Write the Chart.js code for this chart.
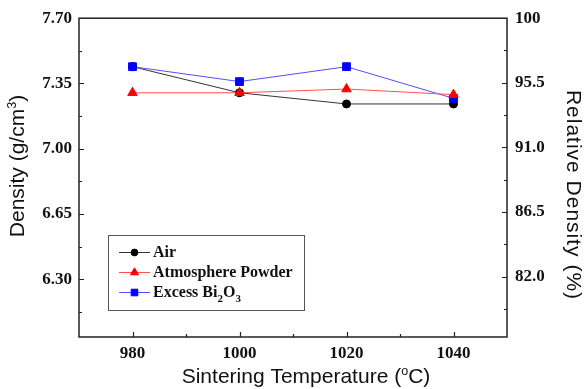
<!DOCTYPE html>
<html>
<head>
<meta charset="utf-8">
<script src="https://cdn.jsdelivr.net/npm/chart.js@4/dist/chart.umd.min.js"></script>
<style>
  html, body { margin: 0; padding: 0; background: #fff; }
  #wrap { width: 584px; height: 389px; position: relative; }
</style>
</head>
<body>
<div id="wrap"><canvas id="chart"></canvas></div>
<script>
const temps = [980, 1000, 1020, 1040];
const airDensity = [7.44, 7.30, 7.24, 7.24];
const powderDensity = [7.30, 7.30, 7.32, 7.29];
const excessDensity = [7.44, 7.36, 7.44, 7.27];
const densityTicks = [6.30, 6.65, 7.00, 7.35, 7.70];
const relTicks = [82.0, 86.5, 91.0, 95.5, 100];
const tempTicks = [980, 1000, 1020, 1040];

const serifBold = {family: '"Liberation Serif", "Times New Roman", serif', size: 17, weight: 'bold'};
const SANS = '"Liberation Sans", Arial, sans-serif';

function pts(ys) { return temps.map((t, i) => ({x: t, y: ys[i]})); }

// text made of pieces: [text, 0 normal | 1 superscript | -1 subscript]
function drawPieces(ctx, pieces, size, family, weight, spacing) {
  ctx.letterSpacing = spacing || '0px';
  let w = 0;
  pieces.forEach(([t, k]) => {
    ctx.font = weight + ' ' + (k ? size * 0.6 : size) + 'px ' + family;
    w += ctx.measureText(t).width;
  });
  let x = -w / 2;
  pieces.forEach(([t, k]) => {
    ctx.font = weight + ' ' + (k ? size * 0.6 : size) + 'px ' + family;
    ctx.fillText(t, x, k === 1 ? -size * 0.28 : (k === -1 ? size * 0.3 : 0));
    x += ctx.measureText(t).width;
  });
  ctx.letterSpacing = '0px';
}

const decor = {
  id: 'decor',
  afterDraw(chart) {
    const ctx = chart.ctx, a = chart.chartArea;
    const sx = chart.scales.x, sy = chart.scales.y, sy2 = chart.scales.y2;
    ctx.save();
    ctx.strokeStyle = '#222';
    ctx.lineWidth = 1.5;
    ctx.strokeRect(a.left, a.top, a.right - a.left, a.bottom - a.top);
    ctx.lineWidth = 1.2;
    ctx.beginPath();
    for (let v = 980; v <= 1040; v += 10) {
      const px = Math.round(sx.getPixelForValue(v)) + 0.5;
      const len = v % 20 === 0 ? 5 : 3;
      ctx.moveTo(px, a.bottom); ctx.lineTo(px, a.bottom - len);
    }
    for (let i = 0; i < 9; i++) {
      const py = Math.round(sy.getPixelForValue(6.125 + i * 0.175)) + 0.5;
      const len = i % 2 === 1 ? 5 : 3;
      ctx.moveTo(a.left, py); ctx.lineTo(a.left + len, py);
    }
    for (let i = 0; i < 9; i++) {
      const py = Math.round(sy2.getPixelForValue(79.75 + i * 2.25)) + 0.5;
      const len = i % 2 === 1 ? 5 : 3;
      ctx.moveTo(a.right, py); ctx.lineTo(a.right - len, py);
    }
    ctx.stroke();

    // axis titles
    ctx.fillStyle = '#111';
    ctx.textBaseline = 'middle';
    ctx.save();
    ctx.translate(18, 166); ctx.rotate(-Math.PI / 2);
    drawPieces(ctx, [['Density (g/cm', 0], ['3', 1], [')', 0]], 21, SANS, 'normal');
    ctx.restore();
    ctx.save();
    ctx.translate(573, 195); ctx.rotate(Math.PI / 2);
    drawPieces(ctx, [['Relative Density (%)', 0]], 21, SANS, 'normal', '1px');
    ctx.restore();
    ctx.save();
    ctx.translate(306, 377);
    drawPieces(ctx, [['Sintering Temperature (', 0], ['o', 1], ['C)', 0]], 21, SANS, 'normal');
    ctx.restore();

    // legend
    const bx = 108, by = 235, bw = 196, bh = 75;
    ctx.strokeStyle = '#555';
    ctx.lineWidth = 1;
    ctx.strokeRect(bx + 0.5, by + 0.5, bw, bh);
    const rows = [
      {ds: 0, y: 252, text: [['Air', 0]]},
      {ds: 1, y: 272, text: [['Atmosphere Powder', 0]]},
      {ds: 2, y: 292, text: [['Excess Bi', 0], ['2', -1], ['O', 0], ['3', -1]]}
    ];
    rows.forEach(r => {
      const ds = chart.data.datasets[r.ds];
      ctx.strokeStyle = ds.borderColor;
      ctx.lineWidth = 1;
      ctx.beginPath();
      ctx.moveTo(119, r.y + 0.5); ctx.lineTo(150, r.y + 0.5);
      ctx.stroke();
      ctx.fillStyle = ds.pointBackgroundColor;
      ctx.strokeStyle = ds.pointBorderColor;
      Chart.helpers.drawPoint(ctx, {
        pointStyle: ds.pointStyle, radius: ds.pointRadius * 0.85, rotation: 0, borderWidth: 1
      }, 134.5, r.y + 0.5);
      let x = 153;
      ctx.fillStyle = '#111';
      r.text.forEach(([t, k]) => {
        ctx.font = 'bold ' + (k ? 11 : 16) + 'px "Liberation Serif", serif';
        ctx.fillText(t, x, r.y + 1 + (k ? 6 : 0));
        x += ctx.measureText(t).width;
      });
    });
    ctx.restore();
  }
};

new Chart(document.getElementById('chart'), {
  type: 'line',
  data: {
    datasets: [{
      label: 'Air',
      data: pts(airDensity),
      borderColor: '#333',
      pointBackgroundColor: '#000',
      pointBorderColor: '#000',
      pointStyle: 'circle',
      pointRadius: 4,
      borderWidth: 1,
      order: 3
    }, {
      label: 'Atmosphere Powder',
      data: pts(powderDensity),
      borderColor: '#ff5050',
      pointBackgroundColor: '#ff0000',
      pointBorderColor: '#ff0000',
      pointStyle: 'triangle',
      pointRadius: 5.5,
      borderWidth: 1,
      order: 1
    }, {
      label: 'Excess Bi2O3',
      data: pts(excessDensity),
      borderColor: '#5050ff',
      pointBackgroundColor: '#0000ff',
      pointBorderColor: '#0000ff',
      pointStyle: 'rect',
      pointRadius: 5.5,
      borderWidth: 1,
      order: 2
    }]
  },
  options: {
    responsive: true,
    maintainAspectRatio: false,
    animation: false,
    layout: {padding: {top: 17, left: 0, right: 0, bottom: 0}},
    plugins: {legend: {display: false}, tooltip: {enabled: false}},
    scales: {
      x: {
        type: 'linear',
        min: 970, max: 1050,
        grid: {display: false, drawTicks: false},
        border: {display: false},
        afterBuildTicks: s => { s.ticks = tempTicks.map(v => ({value: v})); },
        afterFit: s => { s.height = 52; },
        ticks: {color: '#111', font: serifBold, padding: 6, maxRotation: 0, callback: v => String(v)},
        title: {display: false}
      },
      y: {
        position: 'left',
        min: 5.99, max: 7.70,
        grid: {display: false, drawTicks: false},
        border: {display: false},
        afterBuildTicks: s => { s.ticks = densityTicks.map(v => ({value: v})); },
        afterFit: s => { s.width = 79; },
        ticks: {color: '#111', font: serifBold, padding: 7, callback: v => v.toFixed(2)},
        title: {display: false}
      },
      y2: {
        position: 'right',
        display: true,
        min: 5.99 / 7.70 * 100, max: 100,
        grid: {display: false, drawTicks: false},
        border: {display: false},
        afterBuildTicks: s => { s.ticks = relTicks.map(v => ({value: v})); },
        afterFit: s => { s.width = 77; },
        ticks: {color: '#111', font: serifBold, padding: 8, callback: v => v === 100 ? '100' : v.toFixed(1)},
        title: {display: false}
      }
    }
  },
  plugins: [decor]
});
</script>
</body>
</html>
